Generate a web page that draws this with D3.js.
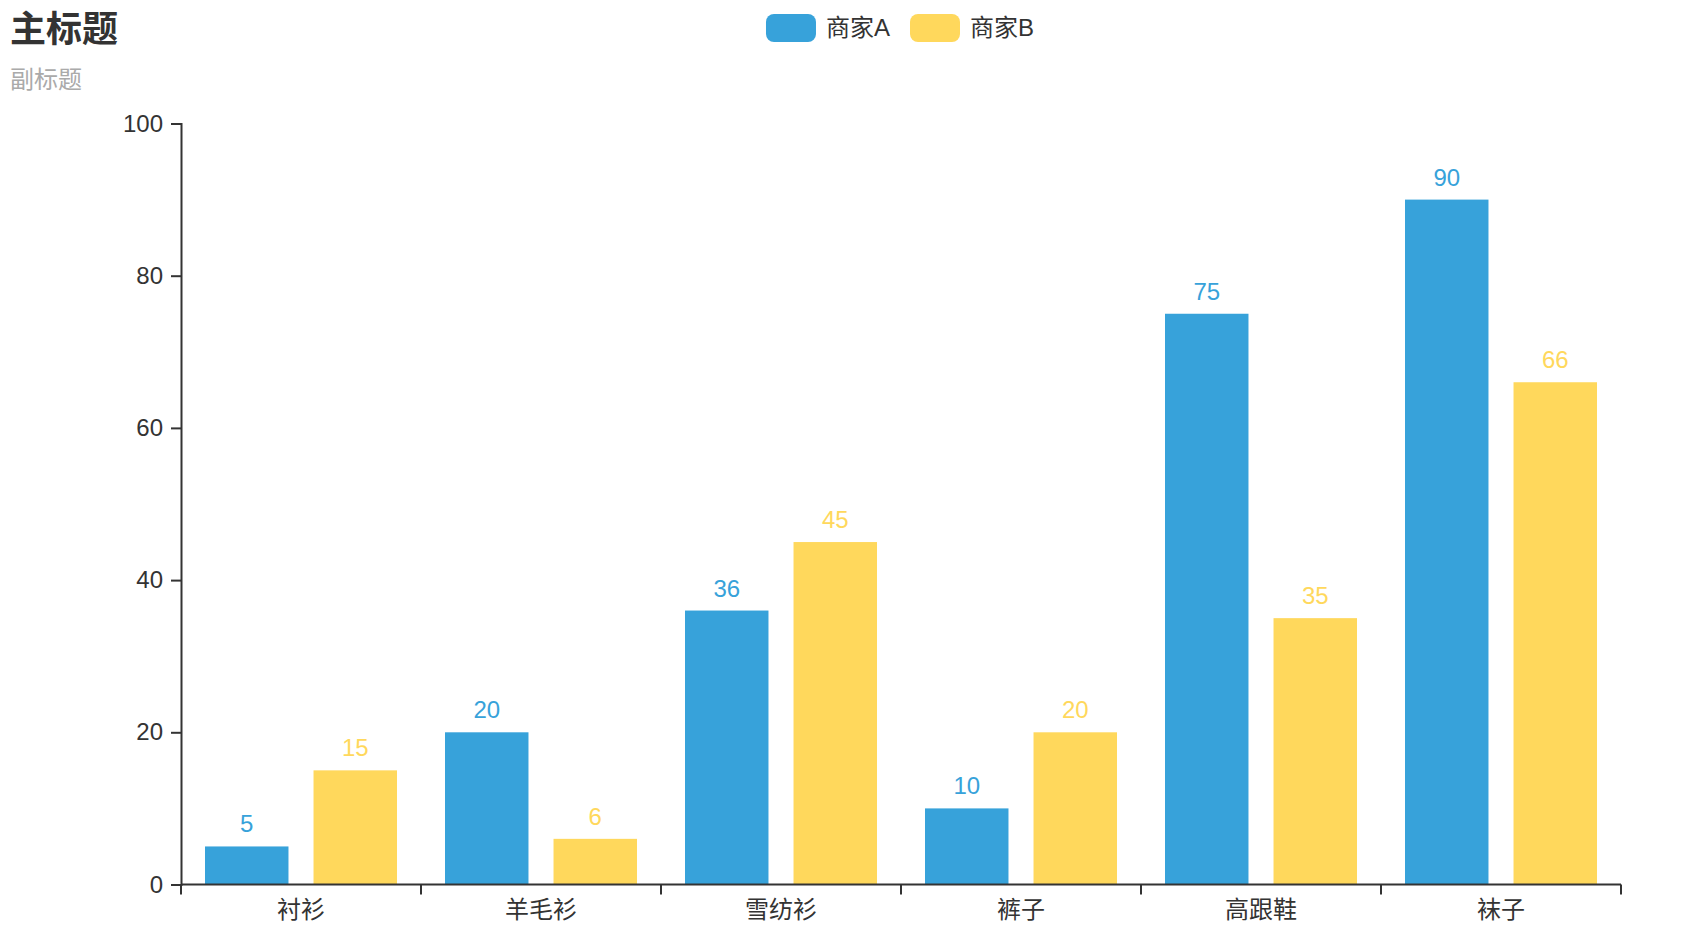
<!DOCTYPE html>
<html>
<head>
<meta charset="utf-8">
<script src="https://cdn.jsdelivr.net/npm/d3@7"></script>
<style>
  html, body { margin: 0; padding: 0; background: #fff; overflow: hidden; }
  svg { display: block; font-family: "Liberation Sans", "Noto Sans CJK SC", sans-serif; }
</style>
</head>
<body>
<div id="chart"></div>
<script>
// chart data
const categories = ["衬衫", "羊毛衫", "雪纺衫", "裤子", "高跟鞋", "袜子"];
const seriesNames = ["商家A", "商家B"];
const valuesA = [5, 20, 36, 10, 75, 90];
const valuesB = [15, 6, 45, 20, 35, 66];
const yTicks = [0, 20, 40, 60, 80, 100];
const colors = ["#37a2da", "#ffd85c"];

const seriesValues = [valuesA, valuesB];

const width = 1800, height = 944;
const margin = { left: 181, right: 179, top: 123.5, bottom: 59.5 };

const svg = d3.select("#chart")
    .append("svg")
    .attr("width", width)
    .attr("height", height);

// Title and subtitle
svg.append("text")
    .attr("x", 10)
    .attr("y", 42)
    .attr("font-size", 36)
    .attr("font-weight", "bold")
    .attr("fill", "#333")
    .text("主标题");

svg.append("text")
    .attr("x", 10)
    .attr("y", 88)
    .attr("font-size", 24)
    .attr("fill", "#aaa")
    .text("副标题");

// Scales
const x0 = d3.scaleBand()
    .domain(categories)
    .range([margin.left, width - margin.right]);

const x1 = d3.scaleBand()
    .domain(seriesNames)
    .range([x0.bandwidth() * 0.1, x0.bandwidth() * 0.9])
    .paddingInner(0.3 / 1.3);

const y = d3.scaleLinear()
    .domain([0, 100])
    .range([height - margin.bottom, margin.top]);

// Bars
const groups = svg.append("g")
    .selectAll("g")
    .data(categories)
    .join("g")
    .attr("transform", d => `translate(${x0(d)},0)`);

groups.selectAll("rect")
    .data((c, i) => seriesNames.map((s, k) => ({ s, k, v: seriesValues[k][i] })))
    .join("rect")
    .attr("x", d => x1(d.s))
    .attr("y", d => y(d.v))
    .attr("width", x1.bandwidth())
    .attr("height", d => y(0) - y(d.v))
    .attr("fill", d => colors[d.k]);

groups.selectAll("text")
    .data((c, i) => seriesNames.map((s, k) => ({ s, k, v: seriesValues[k][i] })))
    .join("text")
    .attr("x", d => x1(d.s) + x1.bandwidth() / 2)
    .attr("y", d => y(d.v) - 14)
    .attr("text-anchor", "middle")
    .attr("font-size", 24)
    .attr("fill", d => colors[d.k])
    .text(d => d.v);

// Y axis
const yAxis = svg.append("g")
    .attr("transform", `translate(${margin.left},0)`)
    .call(d3.axisLeft(y).tickValues(yTicks).tickSize(10).tickPadding(8));

yAxis.select(".domain").attr("stroke", "#333").attr("stroke-width", 2);
yAxis.selectAll(".tick line").attr("stroke", "#333").attr("stroke-width", 2);
yAxis.selectAll(".tick text")
    .attr("font-size", 24)
    .attr("fill", "#333")
    .attr("font-family", "Liberation Sans, sans-serif");

// X axis (ticks on category boundaries)
const xAxisG = svg.append("g")
    .attr("transform", `translate(0,${y(0)})`);

xAxisG.append("line")
    .attr("x1", x0.range()[0])
    .attr("x2", x0.range()[1])
    .attr("stroke", "#333")
    .attr("stroke-width", 2);

const boundaries = categories.map(c => x0(c)).concat([x0.range()[1]]);
xAxisG.selectAll(".xtick")
    .data(boundaries)
    .join("line")
    .attr("class", "xtick")
    .attr("x1", d => d)
    .attr("x2", d => d)
    .attr("y1", 0)
    .attr("y2", 10)
    .attr("stroke", "#333")
    .attr("stroke-width", 2);

xAxisG.selectAll(".xlabel")
    .data(categories)
    .join("text")
    .attr("class", "xlabel")
    .attr("x", d => x0(d) + x0.bandwidth() / 2)
    .attr("y", 33)
    .attr("text-anchor", "middle")
    .attr("font-size", 24)
    .attr("fill", "#333")
    .text(d => d);

// Legend, centered on the canvas
const legend = svg.append("g");
const items = legend.selectAll("g")
    .data(seriesNames)
    .join("g");

items.append("rect")
    .attr("width", 50)
    .attr("height", 28)
    .attr("y", 14)
    .attr("rx", 8)
    .attr("fill", (d, i) => colors[i]);

items.append("text")
    .attr("x", 60)
    .attr("y", 36)
    .attr("font-size", 24)
    .attr("fill", "#333")
    .text(d => d);

let offset = 0;
items.each(function () {
    const w = 60 + this.querySelector("text").getComputedTextLength();
    d3.select(this).attr("transform", `translate(${offset},0)`);
    offset += w + 20;
});
const total = offset - 20;
legend.attr("transform", `translate(${width / 2 - total / 2},0)`);
</script>
</body>
</html>
